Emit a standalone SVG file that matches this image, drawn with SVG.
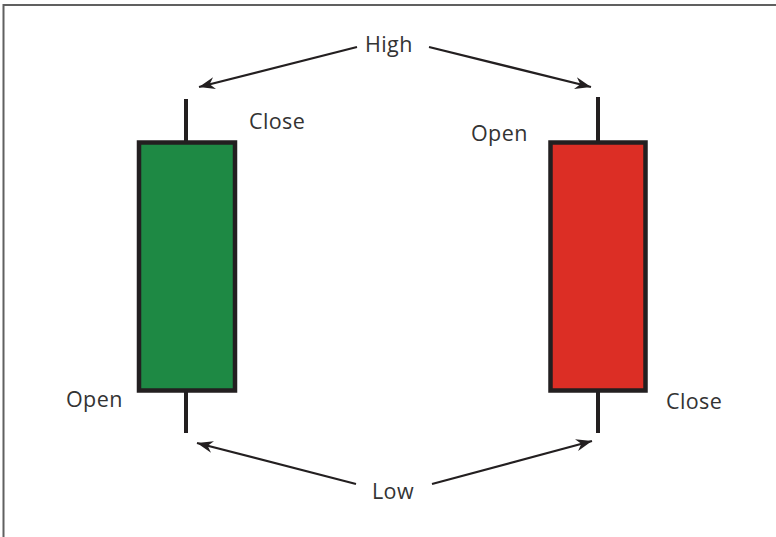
<svg xmlns="http://www.w3.org/2000/svg" width="776" height="537" viewBox="0 0 776 537">
<style>
.lbl{font-family:"Open Sans","Liberation Sans",sans-serif;font-size:21.5px;fill:#333333;letter-spacing:0.4px}
.wick{stroke:#231f20;stroke-width:4;fill:none}
.body{stroke:#231f20;stroke-width:4.5}
.arr{stroke:#231f20;stroke-width:2.2;fill:none;marker-end:url(#ah)}
</style>
<defs>
<marker id="ah" viewBox="-16 -7 18 14" refX="0" refY="0" markerWidth="18" markerHeight="14" markerUnits="userSpaceOnUse" orient="auto">
<path d="M0,0 L-16,-6 L-11,0 L-16,6 Z" fill="#231f20"/>
</marker>
</defs>
<rect x="0" y="0" width="776" height="537" fill="#ffffff"/>
<path d="M3.5,537 V5 H776" fill="none" stroke="#606060" stroke-width="2"/>
<g id="green-candle">
<line class="wick" x1="186" y1="99" x2="186" y2="142"/>
<line class="wick" x1="186" y1="390" x2="186" y2="433"/>
<rect class="body" x="139" y="142.5" width="96" height="248" fill="#1e8944"/>
</g>
<g id="red-candle">
<line class="wick" x1="598" y1="97" x2="598" y2="142"/>
<line class="wick" x1="598" y1="390" x2="598" y2="433"/>
<rect class="body" x="550.5" y="142.5" width="95" height="248" fill="#dc2e25"/>
</g>
<g id="connectors">
<line class="arr" x1="357" y1="47" x2="199" y2="87"/>
<line class="arr" x1="429" y1="47" x2="591" y2="87"/>
<line class="arr" x1="356" y1="484" x2="197" y2="443"/>
<line class="arr" x1="432" y1="484" x2="592" y2="441"/>
</g>
<g id="labels">
<text class="lbl" x="365" y="52">High</text>
<text class="lbl" x="372" y="499">Low</text>
<text class="lbl" x="249" y="129">Close</text>
<text class="lbl" x="471" y="141">Open</text>
<text class="lbl" x="66" y="407">Open</text>
<text class="lbl" x="666" y="409">Close</text>
</g>
</svg>
